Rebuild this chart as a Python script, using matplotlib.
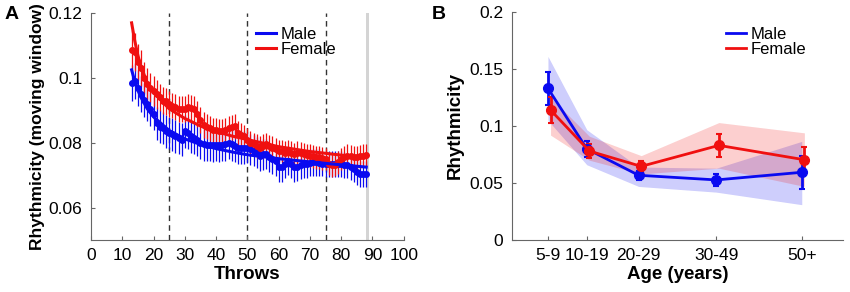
#Two panel rhythmicity figure: throws (A) and age groups (B)
import numpy as np
import matplotlib.pyplot as plt

plt.rcParams['font.family'] = ['Liberation Sans', 'DejaVu Sans']

#Panel A data, one value per throw (moving window)
throws = list(range(13, 89))
male_mean = [0.0985, 0.099, 0.097, 0.095, 0.0933, 0.092, 0.0905, 0.089, 0.086, 0.085,
             0.0845, 0.0835, 0.083, 0.0826, 0.082, 0.0815, 0.081, 0.0835, 0.083, 0.082,
             0.0815, 0.081, 0.080, 0.0795, 0.0793, 0.0793, 0.0792, 0.0793, 0.0792, 0.0793,
             0.0795, 0.080, 0.0795, 0.079, 0.0785, 0.0785, 0.0785, 0.0785, 0.078, 0.0775,
             0.077, 0.076, 0.0765, 0.0765, 0.0755, 0.075, 0.0745, 0.0725, 0.0725, 0.0735,
             0.0745, 0.0735, 0.0725, 0.0725, 0.073, 0.0735, 0.0735, 0.0738, 0.074, 0.074,
             0.0738, 0.0736, 0.0735, 0.0735, 0.0735, 0.0735, 0.0735, 0.0735, 0.0732, 0.073,
             0.0725, 0.072, 0.071, 0.0705, 0.0705, 0.0705]
male_err = [0.0055, 0.0055, 0.0055, 0.0055, 0.0052, 0.0052, 0.0052, 0.005, 0.005, 0.005,
            0.005, 0.005, 0.005, 0.005, 0.005, 0.005, 0.005, 0.005, 0.005, 0.005,
            0.005, 0.005, 0.005, 0.005, 0.005, 0.005, 0.005, 0.005, 0.005, 0.005,
            0.005, 0.005, 0.005, 0.005, 0.005, 0.005, 0.005, 0.0048, 0.0048, 0.0048,
            0.0048, 0.0048, 0.0048, 0.0046, 0.0046, 0.0046, 0.0046, 0.0045, 0.0045, 0.0045,
            0.0045, 0.0045, 0.0045, 0.0043, 0.0043, 0.0043, 0.0043, 0.0042, 0.0042, 0.0042,
            0.0042, 0.004, 0.004, 0.004, 0.004, 0.004, 0.004, 0.004, 0.004, 0.004,
            0.004, 0.004, 0.004, 0.004, 0.004, 0.004]
female_mean = [0.1087, 0.108, 0.105, 0.103, 0.100, 0.098, 0.097, 0.096, 0.095, 0.094,
               0.093, 0.0928, 0.092, 0.0915, 0.091, 0.0905, 0.0905, 0.0905, 0.091, 0.0908,
               0.0905, 0.089, 0.087, 0.0855, 0.085, 0.0845, 0.084, 0.0838, 0.0835, 0.0835,
               0.084, 0.0845, 0.0848, 0.0851, 0.083, 0.0825, 0.082, 0.081, 0.080, 0.0795,
               0.079, 0.0785, 0.079, 0.0795, 0.079, 0.0785, 0.078, 0.0775, 0.0775, 0.077,
               0.0775, 0.077, 0.0765, 0.077, 0.0768, 0.0765, 0.0762, 0.076, 0.0758, 0.0755,
               0.0755, 0.0752, 0.075, 0.0735, 0.073, 0.0732, 0.074, 0.075, 0.0755, 0.076,
               0.0758, 0.0755, 0.0755, 0.0758, 0.076, 0.0762]
female_err = [0.006, 0.006, 0.0055, 0.0055, 0.005, 0.005, 0.0045, 0.0045, 0.0045, 0.0042,
              0.0042, 0.0042, 0.004, 0.004, 0.004, 0.004, 0.004, 0.004, 0.004, 0.004,
              0.004, 0.004, 0.004, 0.004, 0.0038, 0.0038, 0.0038, 0.0038, 0.0038, 0.0038,
              0.0038, 0.0038, 0.0038, 0.0038, 0.0036, 0.0036, 0.0036, 0.0036, 0.0036, 0.0036,
              0.0036, 0.0036, 0.0036, 0.0036, 0.0035, 0.0035, 0.0035, 0.0035, 0.0035, 0.0035,
              0.0035, 0.0035, 0.0035, 0.0035, 0.0035, 0.0035, 0.0035, 0.0035, 0.0035, 0.0035,
              0.0035, 0.0035, 0.0035, 0.0035, 0.0035, 0.0035, 0.0035, 0.0035, 0.0035, 0.0035,
              0.0035, 0.0035, 0.0035, 0.0035, 0.0035, 0.0035]

fit_throws = [13, 14, 15, 16, 18, 20, 25, 30, 35, 40, 45, 50, 60, 70, 80, 88]
male_fit = [0.1025, 0.099, 0.0962, 0.094, 0.0905, 0.088, 0.0838, 0.0812, 0.0795, 0.0782,
            0.0772, 0.0763, 0.0751, 0.0741, 0.0732, 0.0725]
female_fit = [0.117, 0.1115, 0.107, 0.1035, 0.0985, 0.0955, 0.0905, 0.0875, 0.0852, 0.0835,
              0.0821, 0.081, 0.0788, 0.0773, 0.0762, 0.0756]
split_throws = [25, 50, 75]

#Panel B data, per age group
age_labels = ['5-9', '10-19', '20-29', '30-49', '50+']
age_pos = [7, 14.5, 24.5, 39.5, 56]
male_age = [0.133, 0.080, 0.0568, 0.0527, 0.0594]
male_age_err = [0.0145, 0.007, 0.004, 0.005, 0.0145]
male_band_lo = [0.105, 0.066, 0.047, 0.042, 0.031]
male_band_hi = [0.161, 0.0967, 0.064, 0.063, 0.0865]
female_age = [0.114, 0.078, 0.0646, 0.083, 0.0704]
female_age_err = [0.011, 0.006, 0.005, 0.010, 0.011]
female_band_lo = [0.092, 0.070, 0.058, 0.063, 0.047]
female_band_hi = [0.125, 0.091, 0.074, 0.103, 0.094]

blue = '#0a0af0'
red = '#f01010'
spine_col = '#666666'

def style_axes(ax):
    for side in ['top', 'right']:
        ax.spines[side].set_visible(False)
    for side in ['left', 'bottom']:
        ax.spines[side].set_color(spine_col)
    ax.tick_params(direction='in', color=spine_col, labelsize=12.5, length=3, pad=6)

fig = plt.figure(figsize=(8.5, 2.92), dpi=100)
axA = fig.add_axes([0.107, 0.178, 0.368, 0.777])
axB = fig.add_axes([0.602, 0.178, 0.390, 0.781])

#Panel A
axA.axvspan(88, 89, color='#d4d4d4', lw=0, zorder=0)
for t in split_throws:
    axA.axvline(t, color='#333333', ls=(0, (4, 3)), lw=1, zorder=1)

for mean, err, fit, col, name in [(male_mean, male_err, male_fit, blue, 'Male'),
                                  (female_mean, female_err, female_fit, red, 'Female')]:
    axA.errorbar(throws, mean, yerr=err, color=col, lw=1.8, marker='o', ms=4,
                 elinewidth=0.9, capsize=0, zorder=3)
    axA.plot(fit_throws, fit, color=col, lw=2.2, zorder=4, label=name)

axA.set_xlim(0, 100)
axA.set_ylim(0.05, 0.12)
axA.set_xticks(range(0, 101, 10))
axA.set_yticks([0.06, 0.08, 0.1, 0.12])
axA.set_yticklabels(['0.06', '0.08', '0.1', '0.12'])
style_axes(axA)
axA.set_xlabel('Throws', fontsize=13.5, fontweight='bold', labelpad=2)
axA.set_ylabel('Rhythmicity (moving window)', fontsize=12.5, fontweight='bold', labelpad=3)
axA.legend(loc='upper left', bbox_to_anchor=(0.49, 0.99), frameon=False, fontsize=12,
           handlelength=1.2, handletextpad=0.3, labelspacing=0.0, borderpad=0.2)

#Panel B
age_fem = np.array(age_pos) + 0.5
axB.fill_between(age_pos, male_band_lo, male_band_hi, color=blue, alpha=0.2, lw=0)
axB.fill_between(age_fem, female_band_lo, female_band_hi, color=red, alpha=0.2, lw=0)
axB.errorbar(age_pos, male_age, yerr=male_age_err, color=blue, lw=2, marker='o', ms=7,
             elinewidth=2, capsize=2.5, capthick=1.5)
axB.errorbar(age_fem, female_age, yerr=female_age_err, color=red, lw=2, marker='o', ms=7,
             elinewidth=2, capsize=2.5, capthick=1.5)
axB.set_xlim(0, 64)
axB.set_ylim(0, 0.2)
axB.set_xticks(age_pos)
axB.set_xticklabels(age_labels)
axB.set_yticks([0, 0.05, 0.1, 0.15, 0.2])
axB.set_yticklabels(['0', '0.05', '0.1', '0.15', '0.2'])
style_axes(axB)
axB.set_xlabel('Age (years)', fontsize=13.5, fontweight='bold', labelpad=2)
axB.set_ylabel('Rhythmicity', fontsize=13.5, fontweight='bold', labelpad=4)
lines = [plt.Line2D([], [], color=blue, lw=2), plt.Line2D([], [], color=red, lw=2)]
axB.legend(lines, ['Male', 'Female'], loc='upper left', bbox_to_anchor=(0.61, 0.985),
           frameon=False, fontsize=12, handlelength=1.2, handletextpad=0.3,
           labelspacing=0.0, borderpad=0.2)

fig.text(0.005, 0.935, 'A', fontsize=14, fontweight='bold')
fig.text(0.508, 0.935, 'B', fontsize=14, fontweight='bold')

plt.savefig('out.png', dpi=100)
